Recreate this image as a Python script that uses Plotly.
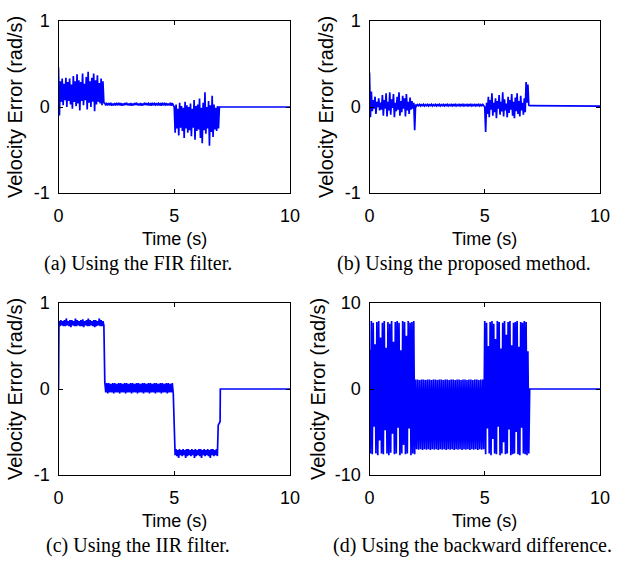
import numpy as np
import plotly.graph_objects as go

W, H = 622, 561

# ---------------- data ----------------
x_ticks = [0, 5, 10]
x_tick_text = ["0", "5", "10"]
y_ticks_small = [-1, 0, 1]
y_text_small = ["-1", "0", "1"]
y_ticks_big = [-10, 0, 10]
y_text_big = ["-10", "0", "10"]
captions = ["(a) Using the FIR filter.", "(b) Using the proposed method.",
            "(c) Using the IIR filter.", "(d) Using the backward difference."]

# (a) FIR filter
a1_hi = [0.46, 0.30, 0.33, 0.27, 0.34, 0.29, 0.33, 0.26, 0.36, 0.30, 0.38, 0.31, 0.29,
         0.39, 0.27, 0.35, 0.41, 0.30, 0.34, 0.39, 0.31, 0.37, 0.28, 0.33, 0.30]
a1_lo = [-0.10, 0.06, 0.02, 0.08, 0.00, 0.07, 0.03, -0.02, 0.06, 0.01, 0.04, -0.04, 0.07,
         0.02, 0.08, -0.03, 0.05, 0.00, 0.06, -0.05, 0.03, 0.06, 0.04, 0.02, 0.05]
a2_hi = [0.045, 0.04, 0.045, 0.05, 0.04, 0.045, 0.04, 0.05, 0.045, 0.04, 0.045, 0.05,
         0.04, 0.045, 0.04, 0.045, 0.05, 0.04, 0.045, 0.04, 0.05, 0.045, 0.04, 0.045,
         0.05, 0.04, 0.045, 0.04, 0.045, 0.05, 0.04, 0.045, 0.04, 0.05, 0.045]
a2_lo = [0.02, 0.025, 0.02, 0.015, 0.02, 0.025, 0.02, 0.02, 0.015, 0.02, 0.025, 0.02,
         0.02, 0.015, 0.02, 0.025, 0.02, 0.02, 0.015, 0.02, 0.025, 0.02, 0.02, 0.015,
         0.02, 0.025, 0.02, 0.02, 0.015, 0.02, 0.025, 0.02, 0.02, 0.015, 0.02]
a3_hi = [0.00, 0.03, -0.02, 0.05, 0.01, -0.01, 0.06, 0.02, 0.00, 0.04, -0.02, 0.08, 0.01,
         0.03, 0.10, -0.01, 0.05, 0.17, 0.00, 0.07, 0.02, 0.13, 0.03, -0.01, 0.01]
a3_lo = [-0.30, -0.25, -0.33, -0.24, -0.28, -0.36, -0.25, -0.30, -0.27, -0.34, -0.24, -0.38,
         -0.28, -0.26, -0.36, -0.42, -0.27, -0.31, -0.25, -0.45, -0.29, -0.35, -0.26, -0.28, -0.25]
a_tail_t = [6.95, 10.0]
a_tail_v = [0.0, 0.0]

# (b) proposed method
b1_hi = [0.40, 0.18, 0.08, 0.12, 0.06, 0.10, 0.05, 0.14, 0.08, 0.16, 0.06, 0.17, 0.09,
         0.15, 0.05, 0.12, 0.17, 0.07, 0.13, 0.10, 0.15, 0.06, 0.11, 0.07, 0.05]
b1_lo = [-0.12, -0.05, -0.02, -0.08, 0.00, -0.04, -0.03, -0.10, -0.02, -0.11, -0.04, -0.09,
         -0.01, -0.12, -0.05, -0.03, -0.10, -0.06, -0.02, -0.11, -0.04, -0.08, -0.03, -0.02, -0.27]
b2_hi = [0.03, 0.028, 0.03, 0.032, 0.03, 0.028, 0.03, 0.032, 0.03, 0.028, 0.03, 0.032,
         0.03, 0.028, 0.03, 0.032, 0.03, 0.028, 0.03, 0.032, 0.03, 0.028, 0.03, 0.032,
         0.03, 0.028, 0.03, 0.032, 0.03, 0.028, 0.03, 0.032, 0.03, 0.028, 0.03]
b2_lo = [0.012, 0.015, 0.012, 0.01, 0.012, 0.015, 0.012, 0.01, 0.012, 0.015, 0.012, 0.01,
         0.012, 0.015, 0.012, 0.01, 0.012, 0.015, 0.012, 0.01, 0.012, 0.015, 0.012, 0.01,
         0.012, 0.015, 0.012, 0.01, 0.012, 0.015, 0.012, 0.01, 0.012, 0.015, 0.012]
b3_hi = [0.00, 0.05, 0.12, 0.08, 0.16, 0.05, 0.10, 0.07, 0.14, 0.06, 0.17, 0.09, 0.04,
         0.12, 0.08, 0.15, 0.06, 0.11, 0.16, 0.07, 0.13, 0.05, 0.10, 0.29, 0.26]
b3_lo = [-0.29, -0.08, -0.12, -0.03, -0.10, -0.06, -0.13, -0.02, -0.09, -0.05, -0.11, -0.04,
         -0.12, -0.07, -0.03, -0.10, -0.13, -0.05, -0.08, -0.11, -0.04, -0.09, -0.06, 0.05, 0.02]
b_tail_t = [6.95, 10.0]
b_tail_v = [0.015, 0.01]

# (c) IIR filter
c_lead_t = [0.0]
c_lead_v = [0.0]
c1_hi = [0.79, 0.80, 0.79, 0.80, 0.82, 0.79, 0.80, 0.80, 0.79, 0.82, 0.80, 0.79, 0.80,
         0.81, 0.79, 0.80, 0.82, 0.80, 0.79, 0.80, 0.80, 0.79, 0.82, 0.80, 0.79]
c1_lo = [0.73, 0.74, 0.73, 0.73, 0.74, 0.73, 0.72, 0.74, 0.73, 0.73, 0.74, 0.73, 0.73,
         0.72, 0.74, 0.73, 0.73, 0.74, 0.73, 0.72, 0.73, 0.74, 0.73, 0.73, 0.74]
c2_hi = [0.08, 0.07, 0.07, 0.06, 0.07, 0.07, 0.06, 0.07, 0.07, 0.06, 0.07, 0.07,
         0.06, 0.07, 0.07, 0.06, 0.07, 0.07, 0.06, 0.07, 0.07, 0.06, 0.07, 0.07,
         0.06, 0.07, 0.07, 0.06, 0.07, 0.07, 0.06, 0.07, 0.07, 0.06, 0.07]
c2_lo = [-0.04, -0.05, -0.04, -0.04, -0.05, -0.04, -0.04, -0.05, -0.04, -0.04, -0.05, -0.04,
         -0.04, -0.05, -0.04, -0.04, -0.05, -0.04, -0.04, -0.05, -0.04, -0.04, -0.05, -0.04,
         -0.04, -0.05, -0.04, -0.04, -0.05, -0.04, -0.04, -0.05, -0.04, -0.04, -0.05]
c3_hi = [-0.68, -0.70, -0.71, -0.70, -0.71, -0.70, -0.71, -0.70, -0.70, -0.71, -0.70, -0.71,
         -0.70, -0.71, -0.70, -0.70, -0.71, -0.70, -0.71, -0.70, -0.71, -0.70, -0.70, -0.71, -0.70]
c3_lo = [-0.77, -0.78, -0.80, -0.77, -0.78, -0.77, -0.80, -0.78, -0.77, -0.78, -0.77, -0.80,
         -0.78, -0.77, -0.78, -0.80, -0.77, -0.78, -0.77, -0.78, -0.80, -0.77, -0.78, -0.77, -0.78]
c_tail_t = [6.90, 6.98, 6.99, 10.0]
c_tail_v = [-0.42, -0.38, 0.0, 0.0]

# (d) backward difference
d1_hi = [4.6, 7.9, 7.7, 5.2, 7.8, 7.9, 6.0, 7.7, 7.9, 4.8, 7.8, 7.6, 7.9,
         5.5, 7.8, 7.9, 7.7, 4.5, 7.9, 7.8, 6.2, 7.9, 7.7, 7.8, 7.9]
d1_lo = [-7.5, -7.6, -4.4, -7.5, -7.7, -6.0, -7.5, -7.6, -4.8, -7.5, -7.7, -7.4, -5.2,
         -7.6, -7.5, -4.5, -7.7, -7.5, -6.5, -7.6, -7.5, -4.6, -7.7, -7.5, -7.6]
d2_hi = [1.1, 1.1, 1.05, 1.1, 1.1, 1.05, 1.1, 1.1, 1.05, 1.1, 1.1, 1.05,
         1.1, 1.1, 1.05, 1.1, 1.1, 1.05, 1.1, 1.1, 1.05, 1.1, 1.1, 1.05,
         1.1, 1.1, 1.05, 1.1, 1.1, 1.05, 1.1, 1.1, 1.05, 1.1, 1.1]
d2_lo = [-7.0, -7.05, -7.0, -7.1, -7.0, -7.05, -7.0, -7.1, -7.0, -7.05, -7.0, -7.1,
         -7.0, -7.05, -7.0, -7.1, -7.0, -7.05, -7.0, -7.1, -7.0, -7.05, -7.0, -7.1,
         -7.0, -7.05, -7.0, -7.1, -7.0, -7.05, -7.0, -7.1, -7.0, -7.05, -7.0]
d3_hi = [7.9, 7.7, 5.0, 7.8, 7.9, 7.6, 5.8, 7.9, 7.8, 4.7, 7.7, 7.9, 6.3,
         7.8, 7.9, 5.1, 7.7, 7.8, 7.9, 4.9, 7.8, 7.7, 7.9, 7.8, 4.4]
d3_lo = [-7.6, -4.6, -7.5, -7.7, -5.8, -7.5, -7.6, -4.4, -7.7, -7.5, -6.2, -7.6, -7.5,
         -4.7, -7.7, -7.6, -7.5, -5.0, -7.6, -7.7, -4.5, -7.5, -7.6, -7.7, -7.5]
d_tail_t = [6.95, 10.0]
d_tail_v = [0.0, 0.0]

panels = [
    dict(segs=[(0.0, 2.0, a1_hi, a1_lo), (2.0, 5.0, a2_hi, a2_lo), (5.0, 6.95, a3_hi, a3_lo)],
         lead=([], []), tail=(a_tail_t, a_tail_v), yr=[-1, 1], yt=y_ticks_small, ytt=y_text_small),
    dict(segs=[(0.0, 2.0, b1_hi, b1_lo), (2.0, 5.0, b2_hi, b2_lo), (5.0, 6.95, b3_hi, b3_lo)],
         lead=([], []), tail=(b_tail_t, b_tail_v), yr=[-1, 1], yt=y_ticks_small, ytt=y_text_small),
    dict(segs=[(0.02, 2.0, c1_hi, c1_lo), (2.0, 5.0, c2_hi, c2_lo), (5.0, 6.9, c3_hi, c3_lo)],
         lead=(c_lead_t, c_lead_v), tail=(c_tail_t, c_tail_v), yr=[-1, 1], yt=y_ticks_small, ytt=y_text_small),
    dict(segs=[(0.0, 2.0, d1_hi, d1_lo), (2.0, 5.0, d2_hi, d2_lo), (5.0, 6.95, d3_hi, d3_lo)],
         lead=([], []), tail=(d_tail_t, d_tail_v), yr=[-10, 10], yt=y_ticks_big, ytt=y_text_big),
]


def build(p):
    ts = list(p["lead"][0])
    vs = list(p["lead"][1])
    for t0, t1, hi, lo in p["segs"]:
        n = len(hi)
        t = np.linspace(t0, t1, 2 * n, endpoint=False)
        v = np.empty(2 * n)
        v[0::2] = hi
        v[1::2] = lo
        ts.extend(t.tolist())
        vs.extend(v.tolist())
    ts.extend(p["tail"][0])
    vs.extend(p["tail"][1])
    return ts, vs


# ---------------- layout (pixel boxes) ----------------
def px(x):
    return x / W


def py(y):
    return 1 - y / H


cols = [(58.5, 290.0), (369.5, 600.0)]
rows = [(21.0, 193.0), (303.0, 475.0)]

SANS = "Liberation Sans, Arial, sans-serif"
SERIF = "Liberation Serif, Times New Roman, serif"

fig = go.Figure()
layout = dict(width=W, height=H, margin=dict(l=0, r=0, t=0, b=0, autoexpand=False),
              paper_bgcolor="white", plot_bgcolor="white", showlegend=False,
              annotations=[])

ytitle_x = [15, 326, 15, 318]
cap_x = [138, 464, 138, 473]

for i, p in enumerate(panels):
    r, c = divmod(i, 2)
    sfx = "" if i == 0 else str(i + 1)
    t, v = build(p)
    fig.add_trace(go.Scatter(x=t, y=v, mode="lines", line=dict(color="#0000ff", width=1.7),
                             xaxis="x" + sfx, yaxis="y" + sfx, hoverinfo="skip"))
    x0, x1 = cols[c]
    y0, y1 = rows[r]
    common = dict(showline=True, linecolor="black", linewidth=1.3, mirror="ticks",
                  ticks="inside", ticklen=4, tickcolor="black", showgrid=False,
                  zeroline=False, automargin=False,
                  tickfont=dict(family=SANS, size=18, color="black"))
    layout["xaxis" + sfx] = dict(domain=[px(x0), px(x1)], range=[0, 10], tickvals=x_ticks,
                                 ticktext=x_tick_text,
                                 anchor="y" + sfx, ticklabelstandoff=6, **common)
    layout["yaxis" + sfx] = dict(domain=[py(y1), py(y0)], range=p["yr"], tickvals=p["yt"],
                                 ticktext=p["ytt"],
                                 anchor="x" + sfx, ticklabelstandoff=4, **common)
    # x title
    layout["annotations"].append(dict(text="Time (s)", xref="paper", yref="paper",
                                      x=px((x0 + x1) / 2), y=py(y1 + 46), showarrow=False,
                                      xanchor="center", yanchor="middle",
                                      font=dict(family=SANS, size=18, color="black")))
    # y title
    layout["annotations"].append(dict(text="Velocity Error (rad/s)", xref="paper", yref="paper",
                                      x=px(ytitle_x[i]), y=py((y0 + y1) / 2), showarrow=False,
                                      textangle=-90, xanchor="center", yanchor="middle",
                                      font=dict(family=SANS, size=20, color="black")))
    # caption
    layout["annotations"].append(dict(text=captions[i], xref="paper", yref="paper",
                                      x=px(cap_x[i]), y=py(y1 + 70), showarrow=False,
                                      xanchor="center", yanchor="middle",
                                      font=dict(family=SERIF, size=20, color="black")))

fig.update_layout(**layout)
fig.write_html("out.html")
